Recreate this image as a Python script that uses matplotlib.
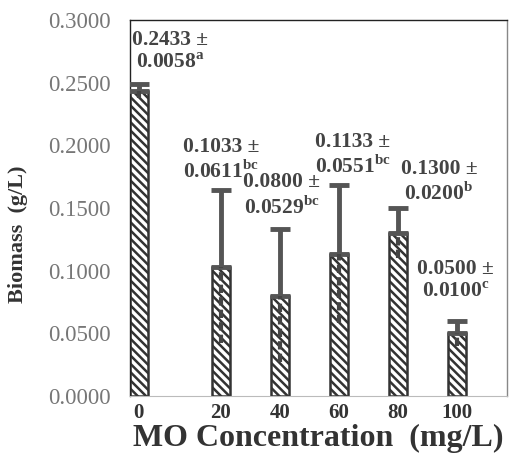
import numpy as np
from matplotlib import pyplot as plt

plt.rcParams['font.family'] = ['Liberation Serif', 'DejaVu Serif']
plt.rcParams['mathtext.fontset'] = 'custom'
plt.rcParams['mathtext.rm'] = 'Liberation Serif'
plt.rcParams['mathtext.bf'] = 'Liberation Serif:bold'
plt.rcParams['hatch.linewidth'] = 1.8
plt.rcParams['hatch.color'] = '#2a2a2a'

concentrations = ['0', '20', '40', '60', '80', '100']
biomass = [0.2433, 0.1033, 0.0800, 0.1133, 0.1300, 0.0500]
sd = [0.0058, 0.0611, 0.0529, 0.0551, 0.0200, 0.0100]
letters = ['a', 'bc', 'bc', 'bc', 'b', 'c']

# category positions (first bar sits against the axis, wider gap to 20)
pos = np.arange(len(concentrations), dtype=float)
pos[0] = -0.39
# label offsets in pixels from the top of the error bar
label_dx = [31, 0, 2, 14, 41, -1]
label_dy = [32, 30, 34, 30, 26, 40]

fig = plt.figure(figsize=(5.09, 4.55), dpi=100)
ax = fig.add_axes([0.2554, 0.1297, 0.7406, 0.8263])

ax.bar(pos, biomass, width=0.31, color='white', edgecolor='#333333',
       linewidth=1.8, hatch='\\\\\\\\', zorder=2)

b = np.array(biomass)
e = np.array(sd)
# upper half of the error bars with caps
ax.errorbar(pos, b, yerr=[np.zeros_like(e), e], fmt='none', ecolor='#555555',
            elinewidth=3.5, capsize=7, capthick=3.5, zorder=3)
# lower half runs down inside the bars
ax.vlines(pos, b - e, b, colors='#444444', linewidth=3,
          linestyles=(0, (2, 1.0)), zorder=3)

for i in range(len(biomass)):
    txt = '%.4f ±\n%.4f$^{\\mathbf{%s}}$' % (biomass[i], sd[i], letters[i])
    ax.annotate(txt, (pos[i], biomass[i] + sd[i]),
                xytext=(label_dx[i], label_dy[i]), textcoords='offset pixels',
                ha='center', va='center', fontsize=15.5, fontweight='bold',
                color='#444444', linespacing=1.2, zorder=4)

ax.set_xlim(-0.54, 5.85)
ax.set_ylim(0, 0.3)
ax.set_xticks(pos)
ax.set_xticklabels(concentrations, fontsize=15, fontweight='bold', color='#333333')
ax.set_yticks(np.arange(0, 0.3001, 0.05))
ax.set_yticklabels(['%.4f' % v for v in np.arange(0, 0.3001, 0.05)],
                   fontsize=16.5, color='#777777')
ax.tick_params(length=0)
ax.tick_params(axis='y', pad=14)
ax.tick_params(axis='x', pad=5)

for s in ['left', 'top', 'right']:
    ax.spines[s].set_color('#222222')
    ax.spines[s].set_linewidth(1.0)
ax.spines['right'].set_color('#888888')
ax.spines['bottom'].set_color('#bbbbbb')

ax.set_xlabel('MO Concentration  (mg/L)', fontsize=23, fontweight='bold',
              color='#333333', labelpad=1)
ax.set_ylabel('Biomass  (g/L)', fontsize=16, fontweight='bold', color='#333333')
ax.yaxis.set_label_coords(-0.27, 0.43)

plt.savefig('out.png', dpi=100)
